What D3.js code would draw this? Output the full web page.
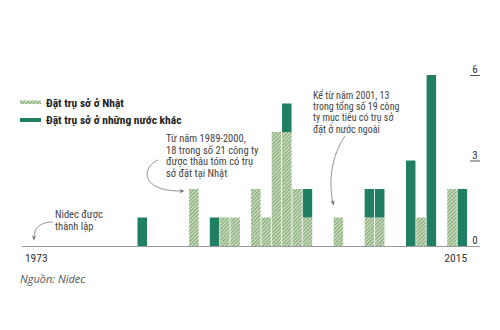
<!DOCTYPE html>
<html><head><meta charset="utf-8">
<script src="https://cdn.jsdelivr.net/npm/d3@7"></script>
<style>
body{margin:0;background:#fff;}
svg{display:block;}
.cond{font-family:"Liberation Sans Narrow","Roboto Condensed","Arial Narrow",sans-serif;}
</style></head>
<body><svg id="c" width="500" height="330"></svg>
<script>
// ---- data ----
const firstYear = 1973, lastYear = 2015;
const barYears = [1984,1989,1991,1992,1993,1995,1996,1997,1998,1999,2000,2003,2006,2007,2010,2011,2012,2014,2015];
const japanHQ  = [0,   2,   0,   1,   1,   2,   1,   4,   4,   2,   1,   1,   1,   1,   0,   1,   0,   2,   0];
const foreignHQ= [1,   0,   1,   0,   0,   0,   0,   0,   1,   0,   1,   0,   1,   1,   3,   0,   6,   0,   2];
const yTicks = [0,3,6];
const legendLabels = ["Đặt trụ sở ở Nhật","Đặt trụ sở ở những nước khác"];
const note1 = ["Từ năm 1989-2000,","18 trong số 21 công ty","được thâu tóm có trụ","sở đặt tại Nhật"];
const note2 = ["Kể từ năm 2001, 13","trong tổng số 19 công","ty mục tiêu có trụ sở","đặt ở nước ngoài"];
const note3 = ["Nidec được","thành lập"];
const source = "Nguồn: Nidec";

const solid = "#207f63", grid="#9a9a9a", txt="#333";
const svg = d3.select("#c");
const defs = svg.append("defs");
const pat = defs.append("pattern").attr("id","hatch").attr("patternUnits","userSpaceOnUse")
  .attr("width",2.6).attr("height",2.6).attr("patternTransform","rotate(45)");
pat.append("rect").attr("width",2.6).attr("height",2.6).attr("fill","#dbe8d2");
pat.append("rect").attr("width",1.4).attr("height",2.6).attr("fill","#84aa74");
const mk = defs.append("marker").attr("id","arr").attr("viewBox","0 0 10 10").attr("refX",5).attr("refY",5)
  .attr("markerWidth",6).attr("markerHeight",6).attr("orient","auto");
mk.append("path").attr("d","M0,1 L10,5 L0,9 L3,5 Z").attr("fill","#777");

const years = d3.range(firstYear, lastYear+1);
const x = d3.scaleBand().domain(years).range([23.5,467.5]).paddingInner(0.08).paddingOuter(0.04);
const y = d3.scaleLinear().domain([0,6]).range([246,75]);

const data = barYears.map((yr,i)=>({yr, j:japanHQ[i], f:foreignHQ[i]}));
const g = svg.append("g");
g.selectAll("rect.j").data(data.filter(d=>d.j>0)).join("rect")
  .attr("x",d=>x(d.yr)).attr("width",x.bandwidth())
  .attr("y",d=>y(d.j)).attr("height",d=>y(0)-y(d.j)).attr("fill","url(#hatch)");
g.selectAll("rect.f").data(data.filter(d=>d.f>0)).join("rect")
  .attr("x",d=>x(d.yr)).attr("width",x.bandwidth())
  .attr("y",d=>y(d.j+d.f)).attr("height",d=>y(d.j)-y(d.j+d.f)).attr("fill",solid);

// baseline
svg.append("line").attr("x1",22).attr("x2",480).attr("y1",y(0)+0.5).attr("y2",y(0)+0.5)
  .attr("stroke",grid).attr("stroke-width",1);
// y ticks
const yt = svg.append("g").attr("class","cond");
yTicks.forEach(t=>{
  if(t>0) yt.append("line").attr("x1",470).attr("x2",480).attr("y1",y(t)+0.5).attr("y2",y(t)+0.5).attr("stroke","#555");
  yt.append("text").attr("x",475).attr("y",y(t)-2).attr("text-anchor","middle")
    .attr("font-size",11).attr("fill",txt).text(t);
});
// x labels
svg.append("text").attr("class","cond").attr("x",x(firstYear)+1).attr("y",262).attr("font-size",11.5).attr("fill",txt).text(firstYear);
svg.append("text").attr("class","cond").attr("x",x(lastYear)+x.bandwidth()).attr("y",262).attr("text-anchor","end").attr("font-size",11.5).attr("fill",txt).text(lastYear);

// legend
const lg = svg.append("g").attr("class","cond");
lg.append("rect").attr("x",20).attr("y",100.5).attr("width",21).attr("height",3.5).attr("fill","url(#hatch)");
lg.append("rect").attr("x",20).attr("y",118).attr("width",21).attr("height",4).attr("fill",solid);
lg.append("text").attr("x",46).attr("y",106.5).attr("font-size",11.5).attr("font-weight","bold").attr("fill","#222").text(legendLabels[0]);
lg.append("text").attr("x",46).attr("y",123.5).attr("font-size",11.5).attr("font-weight","bold").attr("fill","#222").text(legendLabels[1]);

// annotations
function note(lines,x0,y0,lh,fs){
  const t = svg.append("text").attr("class","cond").attr("font-size",fs).attr("fill","#444");
  lines.forEach((l,i)=>t.append("tspan").attr("x",x0).attr("y",y0+i*lh).text(l));
}
note(note1,166,142,11.5,10.5);
note(note2,313,99,11.2,10);
note(note3,55,218,11.5,10.5);
const ap = {fill:"none",stroke:"#888","stroke-width":0.9};
function arrow(d){ const p=svg.append("path").attr("d",d).attr("marker-end","url(#arr)");
  Object.entries(ap).forEach(([k,v])=>p.attr(k,v)); }
arrow("M158,160 C140,168 142,192 182,191");
arrow("M345,136 C332,155 328,180 333,203");
arrow("M53,222 C40,222 34,228 34,238");

svg.append("text").attr("x",20).attr("y",283).attr("font-family","'Open Sans',sans-serif").attr("font-style","italic")
  .attr("font-size",11).attr("fill","#555").text(source);
</script></body></html>
